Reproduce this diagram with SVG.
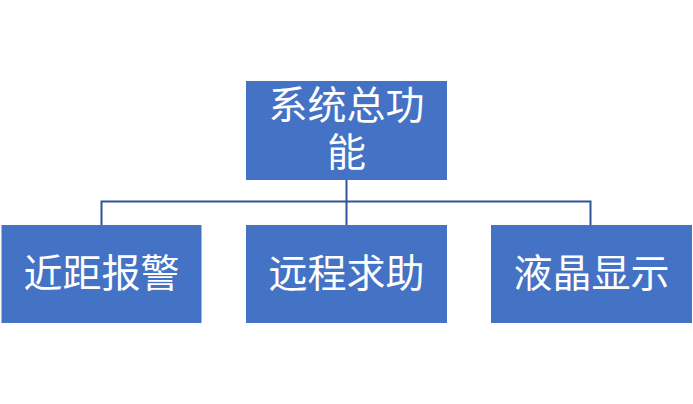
<svg xmlns="http://www.w3.org/2000/svg" width="693" height="404" viewBox="0 0 693 404">
<style>
.box{fill:#4472C4;}
.lbl{fill:#FFFFFF;font-family:"Noto Sans CJK SC","Noto Sans",sans-serif;font-size:39px;text-anchor:middle;}
.conn{stroke:#2F5597;stroke-width:2;fill:none;}
</style>
<rect width="693" height="404" fill="#FFFFFF"/>
<g id="connectors">
<path class="conn" d="M346.5 180 V225"/>
<path class="conn" d="M101.5 225 V201.5 H590.5 V225"/>
</g>
<g id="root">
<rect class="box" x="246" y="81" width="201" height="99"/>
<text class="lbl" x="346.5" y="119">系统总功<tspan x="346.5" dy="47">能</tspan></text>
</g>
<g id="n1">
<rect class="box" x="1.5" y="225" width="200" height="98"/>
<text class="lbl" x="101.5" y="287">近距报警</text>
</g>
<g id="n2">
<rect class="box" x="246" y="225" width="201" height="98"/>
<text class="lbl" x="346.5" y="287">远程求助</text>
</g>
<g id="n3">
<rect class="box" x="491" y="225" width="201" height="98"/>
<text class="lbl" x="591.5" y="287">液晶显示</text>
</g>
</svg>
